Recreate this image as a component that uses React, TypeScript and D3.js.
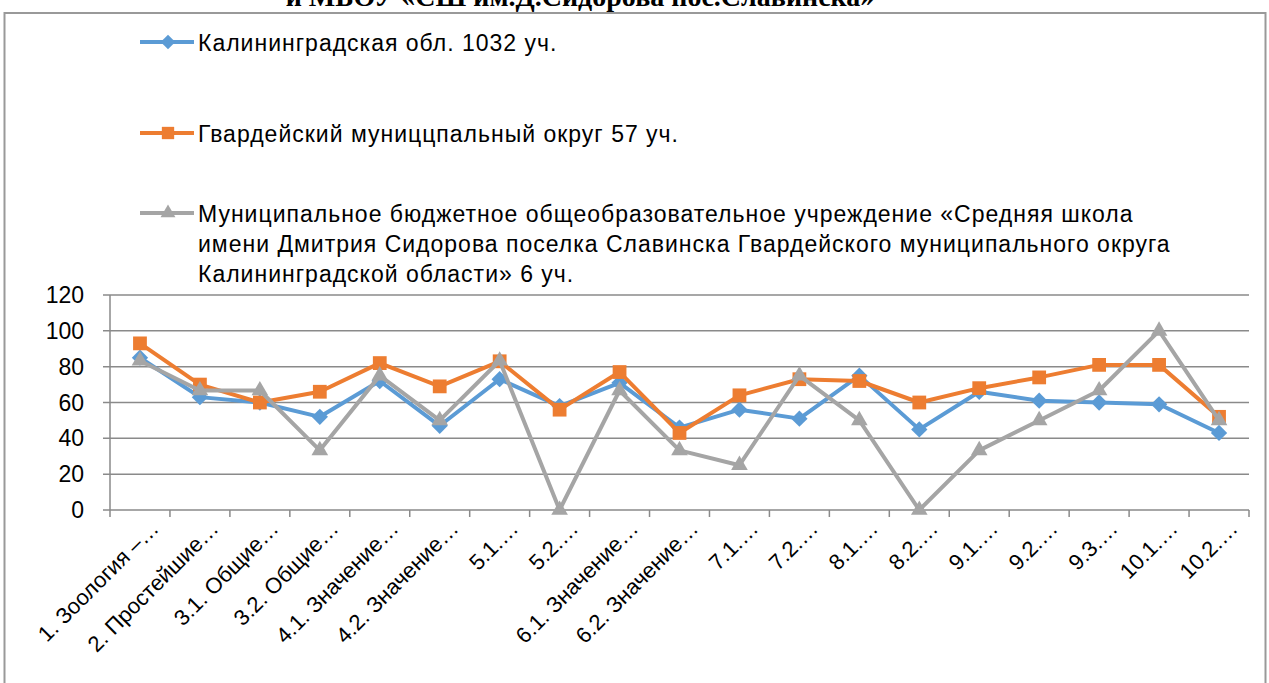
import * as d3 from "d3";

const categories = [
  "1. Зоология –…", "2. Простейшие…", "3.1. Общие…", "3.2. Общие…", "4.1. Значение…",
  "4.2. Значение…", "5.1.…", "5.2.…", "6.1. Значение…", "6.2. Значение…",
  "7.1.…", "7.2.…", "8.1.…", "8.2.…", "9.1.…", "9.2.…", "9.3.…", "10.1.…", "10.2.…",
];
const region = [85, 63, 60, 52, 72, 47, 73, 58, 71, 46, 56, 51, 75, 45, 66, 61, 60, 59, 43];
const district = [93, 70, 60, 66, 82, 69, 83, 56, 77, 43, 64, 73, 72, 60, 68, 74, 81, 81, 52];
const school = [83.3, 66.7, 66.7, 33.3, 75, 50, 83.3, 0, 66.7, 33.3, 25, 75, 50, 0, 33.3, 50, 66.7, 100, 50];
const yTicks = [0, 20, 40, 60, 80, 100, 120];

const legendLines = [
  ["Калининградская обл. 1032 уч."],
  ["Гвардейский муниццпальный округ 57 уч."],
  [
    "Муниципальное бюджетное общеобразовательное учреждение «Средняя школа",
    "имени Дмитрия Сидорова поселка Славинска Гвардейского муниципального округа",
    "Калининградской области» 6 уч.",
  ],
];

const W = 1269, H = 683;
const left = 110, right = 1249, top = 295, bottom = 510;
const font = "'Liberation Sans', Arial, sans-serif";

const series = [
  { data: region, color: "#5B9BD5", marker: d3.symbolDiamond2, size: 170 },
  { data: district, color: "#ED7D31", marker: d3.symbolSquare, size: 190 },
  { data: school, color: "#A5A5A5", marker: d3.symbolTriangle, size: 120 },
];

export default function App() {
  const x = d3.scaleBand<string>().domain(categories).range([left, right]);
  const y = d3.scaleLinear().domain([0, 120]).range([bottom, top]);
  const cx = (i: number) => x(categories[i])! + x.bandwidth() / 2;
  const line = d3.line<number>().x((d, i) => cx(i)).y((d) => y(d));
  const ticksX = d3.range(categories.length + 1).map((i) => left + i * x.bandwidth());
  const legendY = [42, 133, 213];

  return (
    <svg width={W} height={H} style={{ position: "absolute", left: 0, top: 0, background: "#fff" }}>
      <text x={580} y={6} textAnchor="middle" fontFamily="'Liberation Serif', serif" fontWeight="bold" fontSize={28}>
        и МБОУ «СШ им.Д.Сидорова пос.Славинска»
      </text>
      <rect x={4.5} y={13} width={1261} height={700} fill="#fff" stroke="#999" strokeWidth={2} />

      {/* grid */}
      {yTicks.map((t) => (
        <g key={t}>
          <line x1={left - 7} x2={right} y1={y(t)} y2={y(t)} stroke="#8a8a8a" strokeWidth={1.5} />
          <text x={84} y={y(t) + 8} textAnchor="end" fontFamily={font} fontSize={23}>{t}</text>
        </g>
      ))}
      <line x1={left} x2={left} y1={top} y2={bottom} stroke="#8a8a8a" strokeWidth={1.5} />
      {ticksX.map((t, i) => (
        <line key={i} x1={t} x2={t} y1={bottom} y2={bottom + 7} stroke="#8a8a8a" strokeWidth={1.5} />
      ))}
      {categories.map((c, i) => (
        <text key={c + i} transform={`translate(${cx(i) + 20},${bottom + 20}) rotate(-45)`} textAnchor="end"
          fontFamily={font} fontSize={22}>{c}</text>
      ))}

      {/* series */}
      {series.map((s, k) => (
        <g key={k}>
          <path d={line(s.data)!} fill="none" stroke={s.color} strokeWidth={4} strokeLinejoin="round" />
          {s.data.map((v, i) => (
            <path key={i} transform={`translate(${cx(i)},${y(v)})`} d={d3.symbol(s.marker, s.size)()!} fill={s.color} />
          ))}
        </g>
      ))}

      {/* legend */}
      {series.map((s, k) => (
        <g key={"l" + k}>
          <line x1={140} x2={194} y1={legendY[k]} y2={legendY[k]} stroke={s.color} strokeWidth={4} />
          <path transform={`translate(168,${legendY[k]})`} d={d3.symbol(s.marker, s.size * 0.8)()!} fill={s.color} />
          {legendLines[k].map((t, j) => (
            <text key={j} x={198} y={legendY[k] + 9 + j * 30} fontFamily={font} fontSize={23}
              letterSpacing={1}>{t}</text>
          ))}
        </g>
      ))}
    </svg>
  );
}
